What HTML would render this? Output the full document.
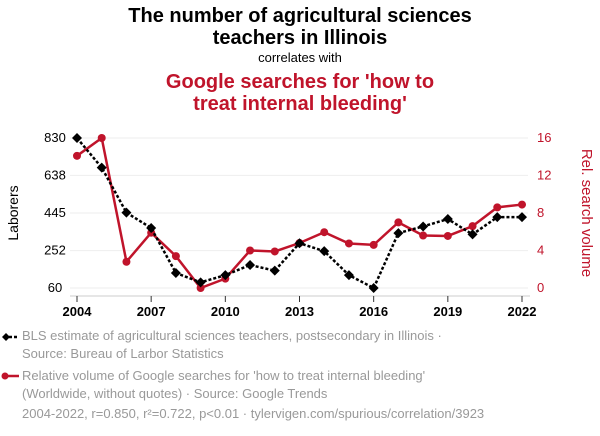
<!DOCTYPE html>
<html><head><meta charset="utf-8"><style>
body{margin:0;width:600px;height:436px;background:#fff;font-family:"Liberation Sans",sans-serif;overflow:hidden}
.t{position:absolute;left:0;width:600px;text-align:center}
.leg{position:absolute;left:22px;font-size:13px;color:#999;line-height:18px}
</style></head><body>
<div class="t" style="top:5px;font-size:20px;font-weight:bold;line-height:22px;color:#000">The number of agricultural sciences<br>teachers in Illinois</div>
<div class="t" style="top:50px;font-size:13px">correlates with</div>
<div class="t" style="top:71px;font-size:20px;font-weight:bold;line-height:22px;color:#c0142b">Google searches for 'how to<br>treat internal bleeding'</div>
<svg id="c" width="600" height="436" style="position:absolute;left:0;top:0"></svg>
<div class="leg" style="top:327px">BLS estimate of agricultural sciences teachers, postsecondary in Illinois ·<br>Source: Bureau of Larbor Statistics</div>
<div class="leg" style="top:367px">Relative volume of Google searches for 'how to treat internal bleeding'<br>(Worldwide, without quotes) · Source: Google Trends</div>
<div class="leg" style="top:405px">2004-2022, r=0.850, r²=0.722, p&lt;0.01 · tylervigen.com/spurious/correlation/3923</div>
<script>
const years=[2004,2005,2006,2007,2008,2009,2010,2011,2012,2013,2014,2015,2016,2017,2018,2019,2020,2021,2022];
const teachers=[830,678,447,368,137,89,126,178,149,290,249,126,60,342,376,414,335,424,424];
const searches=[14.1,16,2.8,5.9,3.4,0,1,4,3.9,4.8,5.95,4.75,4.6,7,5.6,5.55,6.6,8.6,8.9];
const leftTicks=[60,252,445,638,830];
const rightTicks=[0,4,8,12,16];
const xTicks=[2004,2007,2010,2013,2016,2019,2022];
const ns="http://www.w3.org/2000/svg",svg=document.getElementById('c');
const X=y=>77+(y-2004)*(445/18);
const YL=v=>288-(v-60)/(830-60)*150;
const YR=v=>288-v/16*150;
function mk(t,a,p){const e=document.createElementNS(ns,t);for(const k in a)e.setAttribute(k,a[k]);(p||svg).appendChild(e);return e;}
leftTicks.forEach((v,i)=>{
 const g=mk('line',{x1:70,x2:528,y1:YL(v),y2:YL(v),stroke:'#eee','stroke-width':1});
 
 
 const t=mk('text',{x:55,y:YL(v)+4,'font-size':13,'text-anchor':'middle',fill:'#000'});t.textContent=v;
 
 
});
rightTicks.forEach(v=>{
 const t=mk('text',{x:537,y:YR(v)+4,'font-size':13,'text-anchor':'start',fill:'#c0142b'});t.textContent=v;
 
 
});
const ax=mk('line',{x1:70,x2:530,y1:296,y2:296,stroke:'#ccc'});


xTicks.forEach(y=>{
 const l=mk('line',{x1:X(y),x2:X(y),y1:296,y2:302,stroke:'#333'});
 
 
 const t=mk('text',{x:X(y),y:316,'font-size':13,'text-anchor':'middle','font-weight':'bold'});t.textContent=y;
 
 
});
let t=mk('text',{x:0,y:0,'font-size':14,'text-anchor':'middle',transform:'translate(18,213) rotate(-90)'});t.textContent='Laborers';


t=mk('text',{x:0,y:0,'font-size':15,'text-anchor':'middle',fill:'#c0142b',transform:'translate(582,213) rotate(90)'});t.textContent='Rel. search volume';


const rl=mk('polyline',{points:years.map((y,i)=>X(y)+','+YR(searches[i])).join(' '),fill:'none',stroke:'#c0142b','stroke-width':2.5});


years.forEach((y,i)=>{const c=mk('circle',{cx:X(y),cy:YR(searches[i]),r:4,fill:'#c0142b'});
 
 });
const bl=mk('polyline',{points:years.map((y,i)=>X(y)+','+YL(teachers[i])).join(' '),fill:'none',stroke:'#000','stroke-width':2.5,'stroke-dasharray':'3,2'});


years.forEach((y,i)=>{const x=X(y),yy=YL(teachers[i]);const p=mk('polygon',{points:`${x},${yy-5} ${x+5},${yy} ${x},${yy+5} ${x-5},${yy}`,fill:'#000'});
 
 });
const lm1=mk('g',{});
mk('line',{x1:4,x2:19,y1:337,y2:337,stroke:'#000','stroke-width':2.5,'stroke-dasharray':'3,2'},lm1);
mk('polygon',{points:'6,333 10,337 6,341 2,337',fill:'#000'},lm1);
const lm2=mk('g',{});
mk('line',{x1:4,x2:19,y1:376,y2:376,stroke:'#c0142b','stroke-width':2.5},lm2);
mk('circle',{cx:5,cy:376,r:3.5,fill:'#c0142b'},lm2);
</script>
</body></html>
